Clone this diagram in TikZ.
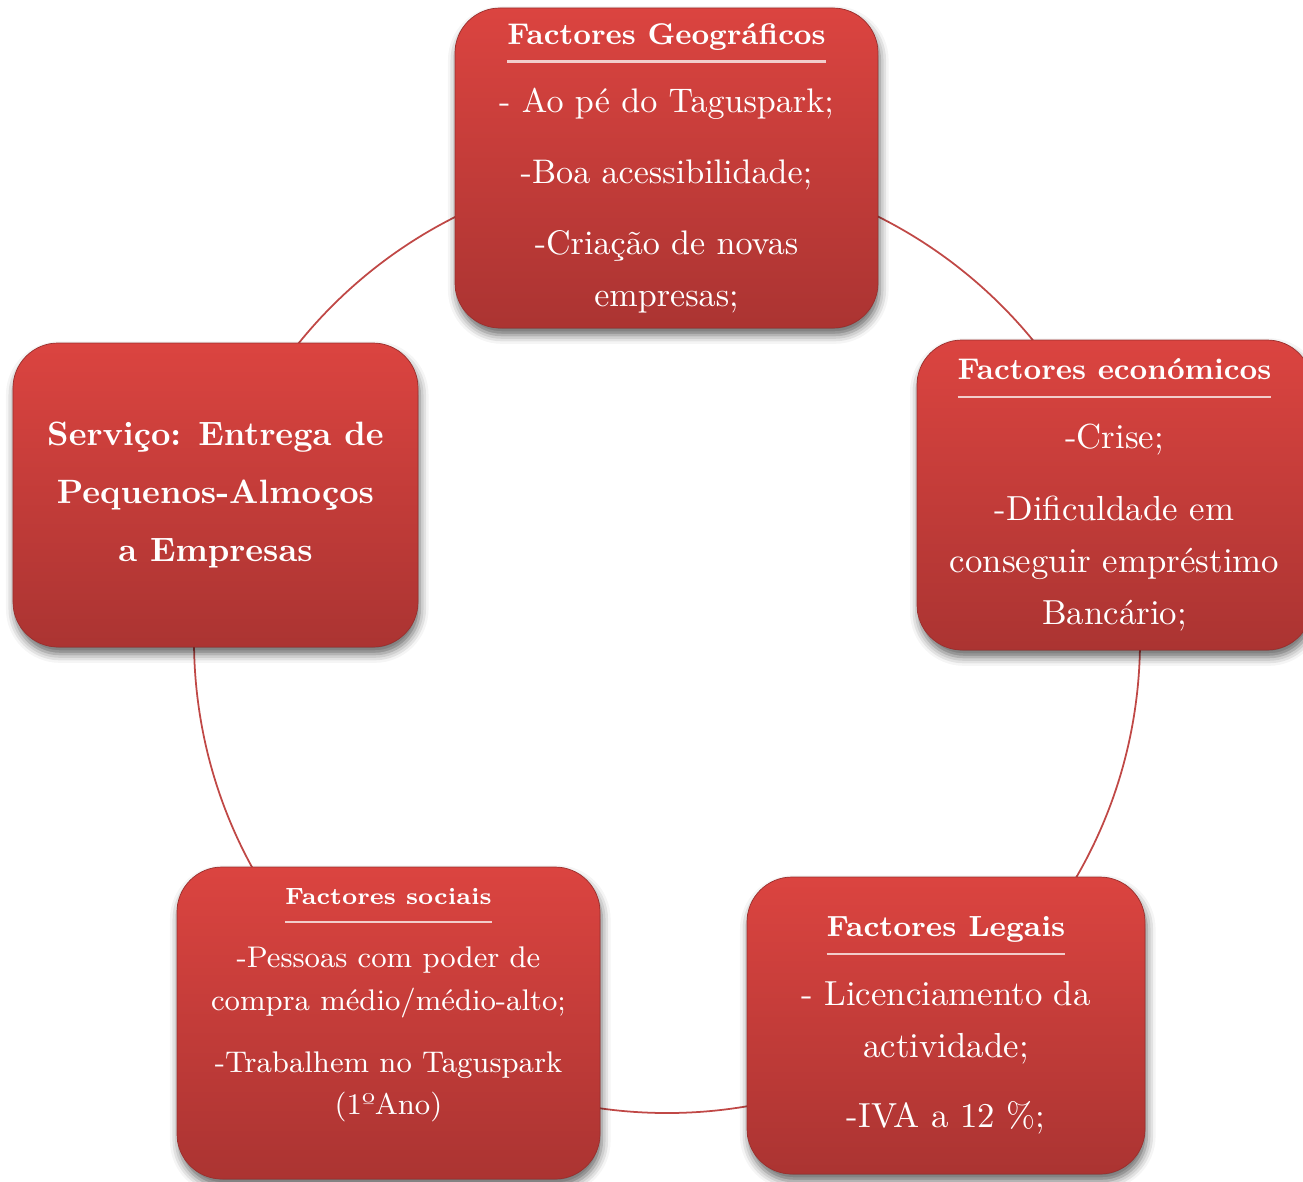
\documentclass[tikz,border=0pt]{standalone}
\usepackage{fontspec}
\usepackage{tikz}
\usetikzlibrary{shadows.blur}
\usepackage{xcolor}

\definecolor{boxtop}{RGB}{219,68,64}
\definecolor{boxbot}{RGB}{171,52,50}
\definecolor{ringred}{RGB}{192,72,70}
\definecolor{linepink}{RGB}{242,205,203}

\newcommand{\heading}[2]{\leavevmode\setbox0=\hbox{\fontsize{#1}{#1}\selectfont\bfseries #2}\rlap{\smash{\raisebox{-5.2pt}{\textcolor{linepink}{\rule{\wd0}{0.6pt}}}}}\box0}

\tikzset{
        factor/.style={rectangle, rounded corners=0.45cm, top color=boxtop, bottom color=boxbot,
                draw=boxbot!90!black, line width=0.2pt, text=white, align=center, inner sep=0pt,
                blur shadow={shadow xshift=0.5pt, shadow yshift=-2pt, shadow blur radius=2.5pt, shadow opacity=60}},
        ring/.style={circle, draw=ringred, line width=0.5pt, inner sep=0pt, minimum size=9.46cm}
}

\begin{document}
\begin{tikzpicture}
        \useasboundingbox (0,0) rectangle (13.03,-11.81);
        \clip (0,0) rectangle (13.03,-11.81);

        \node [ring] (cycle) at (6.67,-6.40) {};

        \node [factor, minimum width=4.23cm, minimum height=3.20cm, font=\fontsize{9.7}{14.6}\selectfont] (geo) at (6.665,-1.68)
                {\heading{8.5}{Factores Geográficos}\\[4.7pt]- Ao pé do Taguspark;\\[5.7pt]-Boa acessibilidade;\\[5.7pt]-Criação de novas\\empresas;};
        \node [factor, minimum width=3.95cm, minimum height=3.10cm, font=\fontsize{9.9}{14.8}\selectfont] (eco) at (11.145,-4.95)
                {\heading{8.5}{Factores económicos}\\[4.7pt]-Crise;\\[5.7pt]-Dificuldade em\\conseguir empréstimo\\Bancário;};
        \node [factor, minimum width=3.98cm, minimum height=2.97cm, font=\fontsize{9.9}{14.8}\selectfont] (legal) at (9.46,-10.255)
                {\heading{8.3}{Factores Legais}\\[4.8pt]- Licenciamento da\\actividade;\\[5.1pt]-IVA a 12 \%;};
        \node [factor, minimum width=4.23cm, minimum height=3.12cm, font=\fontsize{8.5}{12.2}\selectfont] (soc) at (3.885,-10.23)
                {\heading{6.7}{Factores sociais}\\[5.7pt]-Pessoas com poder de\\compra médio/médio-alto;\\[5.4pt]-Trabalhem no Taguspark\\(1ºAno)\\\mbox{}};
        \node [factor, minimum width=4.05cm, minimum height=3.04cm, font=\fontsize{9.6}{16.4}\selectfont\bfseries] (serv) at (2.155,-4.95)
                {Serviço: Entrega de\\Pequenos-Almoços\\a Empresas};
\end{tikzpicture}
\end{document}
